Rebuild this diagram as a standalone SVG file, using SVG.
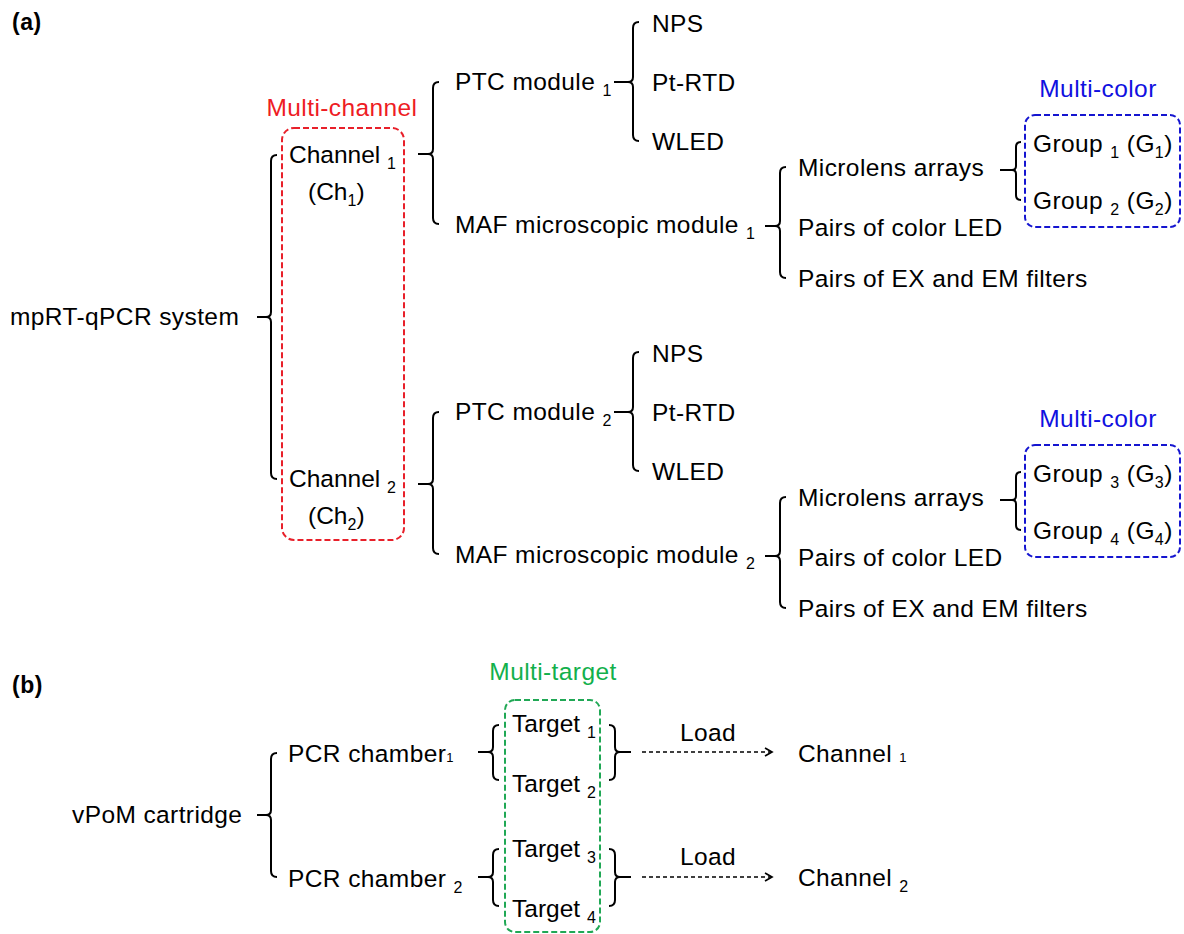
<svg xmlns="http://www.w3.org/2000/svg" width="1184" height="934" viewBox="0 0 1184 934">
<defs>
<style>
text{font-family:"Liberation Sans",Arial,sans-serif;font-size:24.5px;letter-spacing:0.4px;fill:#000}
.tight{letter-spacing:0}
.lbl{font-weight:bold;font-size:23px;letter-spacing:0.5px}
.sub{font-size:16px}
.tiny{font-size:13px}
.brace{fill:none;stroke:#000;stroke-width:2;stroke-linejoin:round}
.arrow{fill:none;stroke:#000;stroke-width:1.7;stroke-dasharray:4 3}
.red{fill:none;stroke:#e8202a;stroke-width:2;stroke-dasharray:6 3}
.blue{fill:none;stroke:#1515d0;stroke-width:2;stroke-dasharray:6 3}
.green{fill:none;stroke:#20a855;stroke-width:2;stroke-dasharray:6 3}
.tred{fill:#ee1c24}
.tblue{fill:#1010e0}
.tgreen{fill:#12b04c}
</style>
<marker id="chev" markerWidth="10" markerHeight="10" refX="8" refY="5" orient="auto" markerUnits="userSpaceOnUse">
<path d="M1,1 L8,5 L1,9" fill="none" stroke="#000" stroke-width="1.7"/>
</marker>
</defs>
<rect width="1184" height="934" fill="#fff"/>

<g id="labels">
<text class="lbl" x="12" y="30">(a)</text>
<text class="lbl" x="12" y="693">(b)</text>
</g>

<g id="frames">
<rect class="red" x="282" y="128" width="122" height="412" rx="12"/>
<text class="tred" x="342" y="116" text-anchor="middle">Multi-channel</text>
<rect class="blue" x="1025" y="115" width="155" height="112" rx="10"/>
<text class="tblue" x="1098" y="97" text-anchor="middle">Multi-color</text>
<rect class="blue" x="1025" y="445" width="155" height="112" rx="10"/>
<text class="tblue" x="1098" y="427" text-anchor="middle">Multi-color</text>
<rect class="green" x="505" y="700" width="95" height="232" rx="10"/>
<text class="tgreen" x="553" y="680" text-anchor="middle">Multi-target</text>
</g>

<g id="connectors">
<path class="brace" d="M277,155 Q271,155 271,161 V312 Q271,317 266,317 Q271,317 271,322 V473 Q271,479 277,479 M266,317 H257"/>
<path class="brace" d="M439,82 Q433,82 433,88 V149 Q433,154 428,154 Q433,154 433,159 V218 Q433,224 439,224 M428,154 H418"/>
<path class="brace" d="M439,412 Q433,412 433,418 V479 Q433,484 428,484 Q433,484 433,489 V548 Q433,554 439,554 M428,484 H418"/>
<path class="brace" d="M639,22 Q633,22 633,28 V77 Q633,82 628,82 Q633,82 633,87 V135 Q633,141 639,141 M628,82 H614"/>
<path class="brace" d="M639,352 Q633,352 633,358 V407 Q633,412 628,412 Q633,412 633,417 V465 Q633,471 639,471 M628,412 H614"/>
<path class="brace" d="M786,167 Q780,167 780,173 V221 Q780,226 775,226 Q780,226 780,231 V272 Q780,278 786,278 M775,226 H765"/>
<path class="brace" d="M786,497 Q780,497 780,503 V551 Q780,556 775,556 Q780,556 780,561 V602 Q780,608 786,608 M775,556 H765"/>
<path class="brace" d="M1021,142 Q1016,142 1016,147 V166 Q1016,170 1012,170 Q1016,170 1016,174 V195 Q1016,200 1021,200 M1012,170 H1000"/>
<path class="brace" d="M1021,472 Q1016,472 1016,477 V496 Q1016,500 1012,500 Q1016,500 1016,504 V525 Q1016,530 1021,530 M1012,500 H1000"/>
<path class="brace" d="M277,753 Q271,753 271,759 V810 Q271,815 266,815 Q271,815 271,820 V871 Q271,877 277,877 M266,815 H257"/>
<path class="brace" d="M499,725 Q493,725 493,731 V747 Q493,752 488,752 Q493,752 493,757 V774 Q493,780 499,780 M488,752 H478"/>
<path class="brace" d="M499,849 Q493,849 493,855 V872 Q493,877 488,877 Q493,877 493,882 V900 Q493,906 499,906 M488,877 H478"/>
<path class="brace" d="M609,725 Q615,725 615,731 V747 Q615,752 620,752 Q615,752 615,757 V774 Q615,780 609,780 M620,752 H631"/>
<path class="brace" d="M609,849 Q615,849 615,855 V872 Q615,877 620,877 Q615,877 615,882 V900 Q615,906 609,906 M620,877 H631"/>
<path class="arrow" d="M642,752 H772" marker-end="url(#chev)"/>
<path class="arrow" d="M642,877 H772" marker-end="url(#chev)"/>
</g>

<g id="node-system"><text x="10" y="325">mpRT-qPCR system</text></g>
<g id="node-ch1">
<text class="tight" x="289" y="163">Channel <tspan class="sub" dy="6">1</tspan></text>
<text class="tight" x="308" y="200">(Ch<tspan class="sub" dy="6">1</tspan><tspan dy="-6">)</tspan></text>
</g>
<g id="node-ch2">
<text class="tight" x="289" y="487">Channel <tspan class="sub" dy="6">2</tspan></text>
<text class="tight" x="308" y="524">(Ch<tspan class="sub" dy="6">2</tspan><tspan dy="-6">)</tspan></text>
</g>
<g id="node-ptc1"><text x="455" y="90">PTC module <tspan class="sub" dy="6">1</tspan></text></g>
<g id="node-nps1"><text x="652" y="32">NPS</text></g>
<g id="node-rtd1"><text x="652" y="91">Pt-RTD</text></g>
<g id="node-wled1"><text x="652" y="150">WLED</text></g>
<g id="node-maf1"><text x="455" y="233">MAF microscopic module <tspan class="sub" dy="6">1</tspan></text></g>
<g id="node-mla1"><text x="798" y="176">Microlens arrays</text></g>
<g id="node-led1"><text x="798" y="236">Pairs of color LED</text></g>
<g id="node-flt1"><text x="798" y="287">Pairs of EX and EM filters</text></g>
<g id="node-g1"><text x="1033" y="152">Group <tspan class="sub" dy="6">1</tspan><tspan dy="-6"> (G</tspan><tspan class="sub" dy="6">1</tspan><tspan dy="-6">)</tspan></text></g>
<g id="node-g2"><text x="1033" y="209">Group <tspan class="sub" dy="6">2</tspan><tspan dy="-6"> (G</tspan><tspan class="sub" dy="6">2</tspan><tspan dy="-6">)</tspan></text></g>

<g id="node-ptc2"><text x="455" y="420">PTC module <tspan class="sub" dy="6">2</tspan></text></g>
<g id="node-nps2"><text x="652" y="362">NPS</text></g>
<g id="node-rtd2"><text x="652" y="421">Pt-RTD</text></g>
<g id="node-wled2"><text x="652" y="480">WLED</text></g>
<g id="node-maf2"><text x="455" y="563">MAF microscopic module <tspan class="sub" dy="6">2</tspan></text></g>
<g id="node-mla2"><text x="798" y="506">Microlens arrays</text></g>
<g id="node-led2"><text x="798" y="566">Pairs of color LED</text></g>
<g id="node-flt2"><text x="798" y="617">Pairs of EX and EM filters</text></g>
<g id="node-g3"><text x="1033" y="482">Group <tspan class="sub" dy="6">3</tspan><tspan dy="-6"> (G</tspan><tspan class="sub" dy="6">3</tspan><tspan dy="-6">)</tspan></text></g>
<g id="node-g4"><text x="1033" y="539">Group <tspan class="sub" dy="6">4</tspan><tspan dy="-6"> (G</tspan><tspan class="sub" dy="6">4</tspan><tspan dy="-6">)</tspan></text></g>

<g id="node-vpom"><text x="72" y="823">vPoM cartridge</text></g>
<g id="node-pcr1"><text x="288" y="762">PCR chamber<tspan class="tiny">1</tspan></text></g>
<g id="node-pcr2"><text x="288" y="887">PCR chamber <tspan class="sub" dy="6">2</tspan></text></g>
<g id="node-t1"><text class="tight" x="512" y="732">Target <tspan class="sub" dy="6">1</tspan></text></g>
<g id="node-t2"><text class="tight" x="512" y="792">Target <tspan class="sub" dy="6">2</tspan></text></g>
<g id="node-t3"><text class="tight" x="512" y="857">Target <tspan class="sub" dy="6">3</tspan></text></g>
<g id="node-t4"><text class="tight" x="512" y="917">Target <tspan class="sub" dy="6">4</tspan></text></g>
<g id="node-load1"><text x="708" y="741" text-anchor="middle">Load</text></g>
<g id="node-load2"><text x="708" y="865" text-anchor="middle">Load</text></g>
<g id="node-bch1"><text x="798" y="762">Channel <tspan class="tiny">1</tspan></text></g>
<g id="node-bch2"><text x="798" y="886">Channel <tspan class="sub" dy="6">2</tspan></text></g>
</svg>
